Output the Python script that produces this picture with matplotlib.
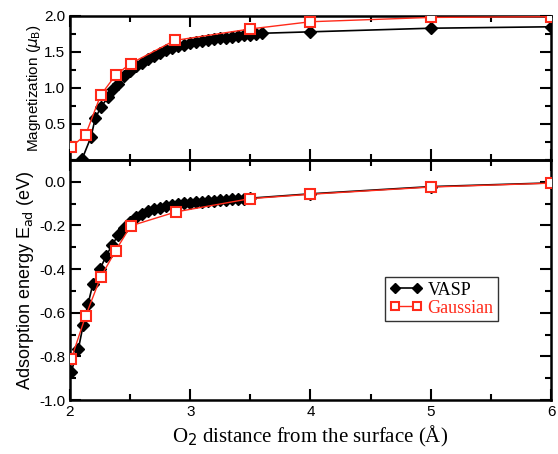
import matplotlib
matplotlib.use("Agg")
import matplotlib.pyplot as plt
from matplotlib.ticker import MultipleLocator

# magnetization (top panel)
mag_vasp_x = [2.10, 2.175, 2.21, 2.26, 2.32, 2.36, 2.40, 2.45, 2.50, 2.55, 2.60, 2.65, 2.70,
              2.75, 2.80, 2.85, 2.90, 2.95, 3.00, 3.05, 3.10, 3.15, 3.20, 3.25, 3.30, 3.35,
              3.40, 3.45, 3.50, 3.55, 3.60, 4.0, 5.0, 6.0]
mag_vasp_y = [0.01, 0.32, 0.58, 0.74, 0.88, 0.98, 1.06, 1.16, 1.24, 1.30, 1.35, 1.40, 1.45,
              1.49, 1.53, 1.56, 1.58, 1.60, 1.62, 1.64, 1.65, 1.66, 1.68, 1.69, 1.70, 1.71,
              1.72, 1.73, 1.74, 1.75, 1.76, 1.78, 1.83, 1.85]
mag_gauss_x = [2.01, 2.13, 2.255, 2.38, 2.505, 2.87, 3.50, 4.0, 5.0, 6.0]
mag_gauss_y = [0.18, 0.35, 0.90, 1.18, 1.34, 1.66, 1.82, 1.92, 1.98, 1.99]

# adsorption energy (bottom panel)
e_vasp_x = [2.01, 2.07, 2.11, 2.15, 2.19, 2.25, 2.30, 2.35, 2.40, 2.45, 2.50, 2.55, 2.60,
            2.65, 2.70, 2.75, 2.80, 2.85, 2.90, 2.95, 3.00, 3.05, 3.10, 3.15, 3.20, 3.25,
            3.30, 3.35, 3.40, 3.45, 3.50, 4.0, 5.0, 6.0]
e_vasp_y = [-0.87, -0.766, -0.656, -0.56, -0.47, -0.40, -0.34, -0.29, -0.245, -0.21, -0.185,
            -0.163, -0.146, -0.134, -0.125, -0.118, -0.112, -0.107, -0.103, -0.099, -0.096,
            -0.093, -0.091, -0.089, -0.087, -0.085, -0.083, -0.081, -0.079, -0.077, -0.075,
            -0.055, -0.022, -0.005]
e_gauss_x = [2.01, 2.13, 2.255, 2.38, 2.505, 2.88, 3.50, 4.0, 5.0, 6.0]
e_gauss_y = [-0.813, -0.615, -0.437, -0.315, -0.202, -0.138, -0.077, -0.057, -0.024, -0.006]

plt.rcParams["font.family"] = ["Liberation Sans", "DejaVu Sans"]
serif = ["Liberation Serif", "DejaVu Serif"]

fig = plt.figure(figsize=(5.58, 4.54), dpi=100)
ax1 = fig.add_axes([0.1254, 0.6476, 0.8621, 0.3172])
ax2 = fig.add_axes([0.1254, 0.1189, 0.8621, 0.5287])

vasp_style = dict(color="black", lw=1.2, marker="D", ms=6.5, mfc="black", mec="black")
gauss_style = dict(color="#ff2a1a", lw=1.0, marker="s", ms=7.5, mfc="white", mec="#ff2a1a", mew=1.5)

ax1.plot(mag_vasp_x, mag_vasp_y, **vasp_style, zorder=3)
ax1.plot(mag_gauss_x, mag_gauss_y, **gauss_style, zorder=4)
ax2.plot(e_vasp_x, e_vasp_y, **vasp_style, label="VASP", zorder=3)
ax2.plot(e_gauss_x, e_gauss_y, **gauss_style, label="Gaussian", zorder=4)

ax1.set_ylim(0, 2.0)
ax2.set_ylim(-1.0, 0.1)
for ax in (ax1, ax2):
    ax.set_xlim(2, 6)
    ax.xaxis.set_major_locator(MultipleLocator(1))
    ax.xaxis.set_minor_locator(MultipleLocator(0.5))
    ax.tick_params(which="both", direction="in", top=True, right=True, width=1.5, labelsize=11)
    ax.tick_params(which="major", length=8)
    ax.tick_params(which="minor", length=4)
    for s in ax.spines.values():
        s.set_linewidth(1.8)
    ax.patch.set_alpha(0)

ax1.yaxis.set_major_locator(MultipleLocator(0.5))
ax1.yaxis.set_minor_locator(MultipleLocator(0.25))
ax1.set_yticks([0.5, 1.0, 1.5, 2.0])
ax1.set_yticklabels(["0.5", "1.0", "1.5", "2.0"])
ax1.tick_params(labelbottom=False)
ax2.yaxis.set_major_locator(MultipleLocator(0.2))
ax2.yaxis.set_minor_locator(MultipleLocator(0.1))
ax2.set_yticks([0.0, -0.2, -0.4, -0.6, -0.8, -1.0])
ax2.set_yticklabels(["0.0", "-0.2", "-0.4", "-0.6", "-0.8", "-1.0"])

ax1.set_ylabel(r"Magnetization ($\mu_\mathrm{B}$)", fontsize=11, labelpad=1)
ax2.set_ylabel(r"Adsorption energy E$_\mathrm{ad}$ (eV)", fontsize=13, labelpad=2)
ax2.set_xlabel(r"O$_2$ distance from the surface (Å)", fontsize=15, family=serif, labelpad=4)

leg = ax2.legend(loc="center left", bbox_to_anchor=(0.655, 0.42), frameon=True, fancybox=False,
                 edgecolor="black", prop={"family": serif, "size": 13}, handlelength=1.8,
                 numpoints=2, handletextpad=0.3, borderpad=0.25, labelspacing=0.05,
                 borderaxespad=0, markerscale=0.85)
leg.get_frame().set_linewidth(1.0)
leg.get_texts()[1].set_color("#ff2a1a")

fig.savefig("out.png", dpi=100)
